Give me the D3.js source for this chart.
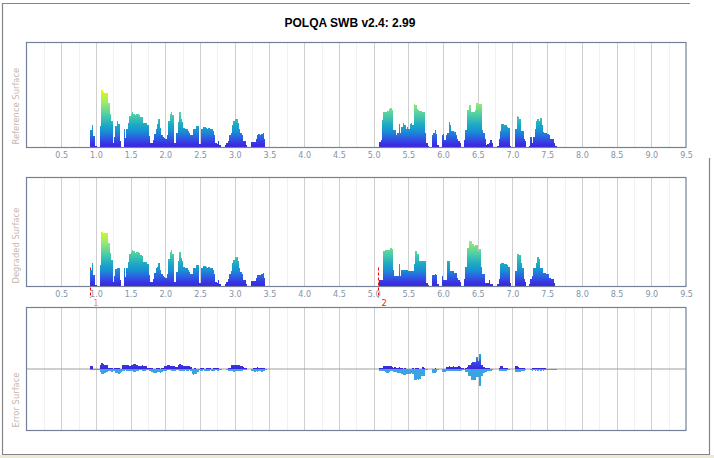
<!DOCTYPE html>
<html><head><meta charset="utf-8">
<script src="https://cdn.jsdelivr.net/npm/d3@7"></script>
<style>html,body{margin:0;padding:0;background:#fff;overflow:hidden}</style>
</head><body>
<svg id="c" width="714" height="458"></svg>
<script>
// ---------------- data ----------------
const chartTitle = "POLQA SWB v2.4: 2.99";
const panelLabels = ["Reference Surface", "Degraded Surface", "Error Surface"];
const xTicks = [0.5, 1.0, 1.5, 2.0, 2.5, 3.0, 3.5, 4.0, 4.5, 5.0, 5.5, 6.0, 6.5, 7.0, 7.5, 8.0, 8.5, 9.0, 9.5];
const frameStep = 0.02;              // seconds per frame
const segStarts = [0.92, 5.08];      // start time of the two speech segments
const markerTimes = [0.92, 5.07];
const markerLabels = ["1", "2"];

const refSeg1 = [18,23,12,2,2,1,0,22,58,56, 55,55,55,45,34,27,5,11,22,27, 24,7,0,0,19,10,19,25,32,34,
  36,34,33,34,34,33,31,31,25,25, 25,23,12,5,5,8,14,19,24,29, 20,13,11,10,9,13,27,34,36,33,
  5,5,15,26,36,29,26,20,19,19, 17,15,13,13,19,19,22,22,4,4, 19,21,21,20,19,20,19,19,17,13,
  5,4,7,3,1,0,0,3,5,7, 13,15,23,27,29,29,25,19,15,13, 7,7,3,1,1,1,6,6,6,9, 13,14,13,14,15,9,1];
const refSeg2 = [6,8,28,36,36,36,37,39,40,38, 18,18,13,15,24,15,21,25,23,19, 21,19,24,25,23,44,43,39,38,37,
  37,36,36,15,5,2,0,0,13,15, 18,14,3,0,0,13,14,8,13,15, 26,23,17,17,16,13,9,7,5,1,
  0,8,18,38,38,43,36,36,36,38, 45,44,44,44,18,15,9,3,4,5, 8,5,0,0,0,2,9,17,24,24,
  23,23,21,20,2,0,0,0,19,32, 31,29,17,17,9,7,0,0,2,11, 5,11,19,27,29,27,30,23,16,15, 15,14,13,9,9,9,5,2,1];

const degSeg1 = [17,24,12,2,2,1,0,22,55,54, 54,54,54,44,34,27,5,11,18,19, 19,7,0,0,19,10,19,25,33,35,
  37,36,34,35,35,34,32,31,25,25, 25,23,12,5,5,8,14,19,20,24, 17,13,11,10,9,13,28,35,37,33,
  5,5,15,26,35,29,26,20,19,19, 17,15,13,13,19,19,22,22,4,4, 19,21,21,20,19,20,19,19,17,13,
  5,4,7,3,1,0,0,3,5,8, 13,16,24,27,30,30,26,19,15,13, 7,7,3,1,1,1,6,6,6,9, 12,12,12,13,14,9,1];
const degSeg2 = [7,7,7,36,37,37,37,37,39,38, 17,11,11,11,23,11,17,17,17,17, 17,16,16,16,16,23,36,33,33,26,
  26,26,26,26,4,2,0,0,12,12, 13,12,3,0,0,11,7,7,7,26, 26,16,16,16,14,14,9,7,5,1,
  0,8,20,39,39,46,46,43,41,42, 42,36,38,20,13,13,4,4,4,7, 3,3,0,0,0,3,8,23,24,24,
  23,23,22,20,4,0,0,0,16,33, 33,32,24,19,8,5,0,0,3,8, 11,19,19,24,30,28,19,19,14,14, 13,13,9,9,8,8,4,1,1];

const errPosSeg1 = [3,3, 0,0,0,0,0, 4,6,5,4,4,4, 1,1,1,0,1,1,1,1,0,0,
  4,4,4,4,4,3,4,4,5,5,4,3,3,3,4,3,3,3,1, 1,1,1,0,0,1,1,1,0,1,1,
  3,3,4,4,3,3,3,3,2,2,4,5,4,4,3,3,3,3,3,2, 0,0,1,0,0,0,
  1,1,1,0,1,1,1,1,0,1,1,1,1,1,0,0, 0,0,0,0,1,1, 4,4,4,4,4,4,4,3,3,2,1,1,
  0,0,0,0,1,1,1,2,1,1,1,1,1,0];
const errNegSeg1 = [-1,-1, -1,-1,-1,-1,-1, -3,-5,-5,-4,-3,-3, -2,-2,-3,-2,-2,-4,-4,-5,-4,-3,
  -2,-2,-1,-2,-2,-2,-2,-2,-3,-3,-2,-2,-1,-1,-2,-2,-2,-1,-1, -2,-2,-3,-4,-4,-4,-3,-3,-4,-3,-2,
  -2,-2,-1,-1,-1,-2,-2,-2,-2,-1,-1,-2,-2,-2,-2,-1,-2,-2,-1,-2, -5,-6,-5,-5,-3,-1,
  -2,-2,-1,-2,-2,-2,-2,-1,-2,-2,-2,-1,-2,-2,-1,-1, 0,0,0,-1,-2,-2, -2,-2,-3,-2,-2,-2,-2,-2,-2,-1,-1,-1,
  0,0,0,-2,-2,-3,-2,-3,-2,-2,-3,-2,-2,-1];
const errPosSeg2 = [1,1,1, 3,3,3,3,3,3,2, 1,2,1,1,2,1,1, 0,1,0,0, 0,0,0,1,0, 1,1,1,0, 0,2,1,0, 0,0,0,0,
  0,0,1,0,0, 0,0,0,0,0, 2,2,3,2,2,3,2,2,2,3,2,1,1,0, 1,2, 4,4,6,7,7,7,12,8,15,4,4,2,
  1,1,1,1,0,0, 0,0,0,0, 1,3,3,1,1,1,1,0, 0,0,0,0, 3,3,2,1,1,1,1, 0,0,0,0,0,
  1,1,1,1,1,1,1,1,1,1,0, 0,0,0,0,0,0,0,0];
const errNegSeg2 = [-2,-2,-2, -2,-3,-4,-4,-3,-2,-2, -3,-3,-3,-4,-4,-4,-5, -6,-6,-5,-5, -5,-5,-4,-5,
  -11,-11,-10,-11,-10, -7,-7,-7, -1,-1,0,0,0, -4,-4,-4,-3,-1, 0,0, -3,-3,-3,
  -2,-2,-2,-2,-2,-2,-2,-2,-2,-2,-2,-2,-1,-1, -3,-3, -7,-7, -11,-11,-11,-11, -8,-8, -17, -7,-7,-4, -3,-3,
  -2,-2,-2,-1, 0,0,0,0, -2,-2,-2,-2,-2,-2,-1,-1, 0,0,0,0, -3,-3,-3,-3, -2,-2,-2, -1,0,0,0,-1,
  -2,-1,-2,-1,-2,-1,-2,-1,-2,-1,-1, -1,-1,-1,-1,-1,-1,-1,0];

// ---------------- layout ----------------
const W = 714, H = 458;
const plotL = 26.5, plotR = 686;
const panels = [
  {top: 42.5, bottom: 147.5},
  {top: 177.5, bottom: 286.5},
  {top: 307.5, bottom: 430.5}
];

const svg = d3.select("#c");
const x = d3.scaleLinear().domain([0, 9.5]).range([plotL, plotR]);

function frames(starts, segs) {
  const out = [];
  segs.forEach((vals, s) => vals.forEach((v, i) => out.push({t: starts[s] + i * frameStep, v})));
  return out;
}
const bx0 = d => Math.round(x(d.t));
const bw = d => Math.max(1, Math.round(x(d.t + frameStep)) - Math.round(x(d.t)));

// background strip at bottom
svg.append("rect").attr("x", 0).attr("y", 455).attr("width", W).attr("height", 3).attr("fill", "#ece9d8");

// outer frame
const outer = svg.append("g").attr("fill", "none").attr("stroke", "#858585").attr("stroke-width", 1.2);
outer.append("path").attr("d", "M2.5,454.5 V3.5 H690");
outer.append("path").attr("d", "M2,454.5 H709.5 V158");

// title
svg.append("text").attr("x", 350).attr("y", 27).attr("text-anchor", "middle")
  .attr("font-family", "Liberation Sans, Arial, sans-serif").attr("font-weight", "bold")
  .attr("font-size", 12).attr("fill", "#000").text(chartTitle);

// gradients
const defs = svg.append("defs");
function surfGrad(id, base) {
  const g = defs.append("linearGradient").attr("id", id).attr("gradientUnits", "userSpaceOnUse")
    .attr("x1", 0).attr("x2", 0).attr("y1", base).attr("y2", base - 60);
  [[0, "#3b1fe0"], [0.08, "#3838e4"], [0.17, "#2b62e0"], [0.27, "#1890d4"], [0.38, "#1eaac4"],
   [0.55, "#4ecfa6"], [0.75, "#9eeb6a"], [1, "#eeff00"]]
    .forEach(([o, c]) => g.append("stop").attr("offset", o).attr("stop-color", c));
}
surfGrad("g0", panels[0].bottom);
surfGrad("g1", panels[1].bottom);
const zeroY = (panels[2].top + panels[2].bottom) / 2;
{
  const g = defs.append("linearGradient").attr("id", "gp").attr("gradientUnits", "userSpaceOnUse")
    .attr("x1", 0).attr("x2", 0).attr("y1", zeroY).attr("y2", zeroY - 16);
  [[0, "#3b22e0"], [0.4, "#3548e6"], [0.7, "#2090d8"], [1, "#22b8c0"]]
    .forEach(([o, c]) => g.append("stop").attr("offset", o).attr("stop-color", c));
  const n = defs.append("linearGradient").attr("id", "gn").attr("gradientUnits", "userSpaceOnUse")
    .attr("x1", 0).attr("x2", 0).attr("y1", zeroY).attr("y2", zeroY + 18);
  [[0, "#3ea2e4"], [0.5, "#38a4e0"], [1, "#22aec8"]]
    .forEach(([o, c]) => n.append("stop").attr("offset", o).attr("stop-color", c));
}

const gridTimes = d3.range(1, 38).map(k => k * 0.25);

panels.forEach((p, pi) => {
  const g = svg.append("g");
  // grid: majors every 0.5 s, faint minors between
  g.selectAll("line.grid").data(gridTimes).join("line")
    .attr("x1", d => Math.round(x(d)) + 0.5).attr("x2", d => Math.round(x(d)) + 0.5)
    .attr("y1", p.top).attr("y2", p.bottom)
    .attr("stroke", (d, i) => (i % 2 === 1) ? "#cfcfcf" : "#f1f1f1").attr("stroke-width", 1)
    .attr("shape-rendering", "crispEdges");

  let y;
  if (pi < 2) {
    y = d3.scaleLinear().domain([0, p.bottom - p.top]).range([p.bottom, p.top]);
  } else {
    const half = (p.bottom - p.top) / 2;
    y = d3.scaleLinear().domain([-half, half]).range([p.bottom, p.top]);
    g.append("line").attr("x1", plotL).attr("x2", plotR).attr("y1", y(0)).attr("y2", y(0))
      .attr("stroke", "#a0a0a0").attr("stroke-width", 1.2);
  }

  // marker lines on degraded surface
  if (pi === 1) {
    markerTimes.forEach((t, k) => {
      g.append("line").attr("x1", Math.round(x(t)) + 0.5).attr("x2", Math.round(x(t)) + 0.5)
        .attr("y1", 267.5).attr("y2", 298)
        .attr("stroke", "#ff0000").attr("stroke-width", 1).attr("stroke-dasharray", "3,2");
    });
  }

  if (pi < 2) {
    const data = pi === 0 ? frames(segStarts, [refSeg1, refSeg2]) : frames(segStarts, [degSeg1, degSeg2]);
    g.selectAll("rect.bar").data(data.filter(d => d.v > 0)).join("rect")
      .attr("x", bx0).attr("width", bw)
      .attr("y", d => y(d.v)).attr("height", d => y(0) - y(d.v))
      .attr("fill", `url(#g${pi})`).attr("shape-rendering", "crispEdges");
  } else {
    const pos = frames(segStarts, [errPosSeg1, errPosSeg2]).filter(d => d.v > 0);
    const neg = frames(segStarts, [errNegSeg1, errNegSeg2]).filter(d => d.v < 0);
    g.selectAll("rect.neg").data(neg).join("rect")
      .attr("x", bx0).attr("width", bw)
      .attr("y", y(0)).attr("height", d => y(d.v) - y(0))
      .attr("fill", "url(#gn)").attr("shape-rendering", "crispEdges");
    g.selectAll("rect.pos").data(pos).join("rect")
      .attr("x", bx0).attr("width", bw)
      .attr("y", d => y(d.v)).attr("height", d => y(0) - y(d.v))
      .attr("fill", "url(#gp)").attr("shape-rendering", "crispEdges");
  }

  // frame
  g.append("rect").attr("x", plotL).attr("y", p.top).attr("width", plotR - plotL).attr("height", p.bottom - p.top)
    .attr("fill", "none").attr("stroke", "#738095").attr("stroke-width", 1.2);

  // x axis labels
  if (pi < 2) {
    const ax = d3.axisBottom(x).tickValues(xTicks).tickFormat(d3.format(".1f")).tickSize(0).tickPadding(4.5);
    const axg = g.append("g").attr("transform", `translate(0,${p.bottom})`).call(ax);
    axg.select(".domain").remove();
    axg.selectAll("text").attr("fill", "#8593a8").attr("font-family", "DejaVu Sans, Verdana, sans-serif")
      .attr("font-size", 8);
  }

  // y label
  g.append("text").attr("transform", `translate(19,${p.bottom - 3}) rotate(-90)`)
    .attr("text-anchor", "start").attr("font-family", "DejaVu Sans, Verdana, sans-serif")
    .attr("font-size", 8.4).attr("fill", "#c4b9ae").text(panelLabels[pi]);
});

// marker labels
const markerColors = ["#f39060", "#ff1414"];
markerTimes.forEach((t, k) => {
  svg.append("text").attr("x", x(t) + 3).attr("y", 306)
    .attr("font-family", "DejaVu Sans, Verdana, sans-serif").attr("font-size", 8.5)
    .attr("fill", markerColors[k]).text(markerLabels[k]);
});
</script>
</body></html>
